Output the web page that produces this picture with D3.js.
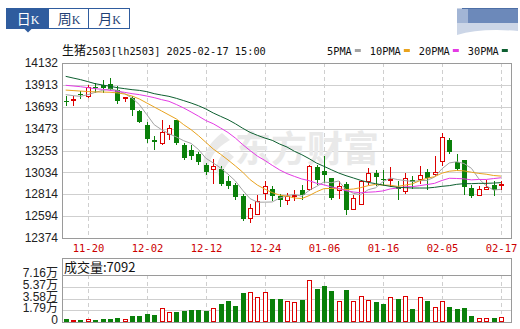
<!DOCTYPE html>
<html>
<head>
<meta charset="utf-8">
<script src="https://cdn.jsdelivr.net/npm/d3@7"></script>
<style>
body { margin: 0; background: #fff; }
svg { display: block; }
</style>
</head>
<body>
<svg id="chart" width="520" height="329"></svg>
<script>
// candle dates (trading days)
var dates = ["11-15","11-18","11-19","11-20","11-21","11-22","11-25","11-26","11-27","11-28",
	"11-29","12-02","12-03","12-04","12-05","12-06","12-09","12-10","12-11","12-12",
	"12-13","12-16","12-17","12-18","12-19","12-20","12-23","12-24","12-25","12-26",
	"12-27","12-30","12-31","01-02","01-03","01-06","01-07","01-08","01-09","01-10",
	"01-13","01-14","01-15","01-16","01-17","01-20","01-21","01-22","01-23","01-24",
	"01-27","02-05","02-06","02-07","02-10","02-11","02-12","02-13","02-14","02-17"];

var opens = [13748,13755,13818,13790,13893,13915,13925,13864,13770,13780,
	13653,13506,13355,13318,13412,13556,13311,13255,13221,13111,
	13060,13067,12943,12910,12792,12565,12608,12812,12866,12799,
	12742,12782,12859,12859,13087,13044,12977,12843,12920,12658,
	12709,12933,13027,12970,12943,12886,12833,12960,12960,13034,
	13010,13134,13355,13134,13154,12876,12792,12859,12903,12900];
var closes = [13740,13768,13810,13891,13885,13885,13870,13747,13790,13663,
	13536,13368,13335,13439,13476,13328,13177,13201,13134,13034,
	13094,12920,12900,12786,12565,12675,12742,12900,12799,12759,
	12792,12809,12806,13094,12960,13010,12776,12893,12658,12776,
	12943,13027,12987,12960,12966,12866,12976,12940,13004,12977,
	13034,13389,13234,13067,12886,12792,12866,12883,12853,12920];
var highs = [13797,13800,13847,13914,13930,13965,13980,13904,13790,13797,
	13663,13536,13395,13556,13509,13563,13328,13311,13234,13127,
	13167,13094,12993,12926,12819,12719,12806,12943,12893,12819,
	12826,12859,12910,13111,13111,13201,12977,12943,12933,12809,
	12960,13077,13060,13054,13087,12943,13027,12993,13100,13067,
	13194,13429,13375,13221,13154,12910,12893,12960,12943,12943];
var lows = [13697,13700,13770,13784,13830,13830,13865,13723,13737,13596,
	13529,13328,13261,13308,13362,13311,13161,13161,13111,13010,
	12920,12893,12866,12759,12541,12524,12608,12759,12742,12685,
	12709,12742,12759,12843,12910,12926,12759,12766,12608,12658,
	12709,12910,12893,12893,12886,12759,12819,12866,12920,12859,
	12993,13094,13221,13044,12809,12776,12792,12859,12799,12859];

var volumes = [4090,2560,3580,5110,3580,5110,4090,6650,4090,8690,
	8690,12780,10230,21990,14830,14830,16880,17900,17900,16880,
	21990,27100,31700,24030,44490,45510,37330,45000,35800,34770,
	31700,30170,33240,63920,50110,54720,47050,31700,48580,31700,
	38860,33240,30170,27100,37330,34770,38860,19430,37330,31700,
	23520,31700,22500,19430,20970,8690,6650,6650,5620,7092];

// moving averages
var ma5 = [13814,13804,13797,13814,13837,13857,13871,13857,13824,13780,
	13713,13613,13512,13462,13422,13389,13351,13324,13263,13175,
	13128,13077,13016,12947,12853,12769,12734,12734,12736,12775,
	12798,12812,12793,12852,12892,12936,12929,12947,12859,12823,
	12809,12859,12878,12939,12977,12961,12951,12942,12950,12953,
	12986,13069,13128,13140,13122,13074,12969,12899,12856,12863];
var ma10 = [13860,13855,13850,13845,13842,13840,13838,13832,13820,13800,
	13770,13730,13690,13650,13610,13570,13512,13462,13402,13335,
	13268,13215,13158,13098,13035,12960,12905,12865,12830,12805,
	12795,12776,12770,12800,12838,12870,12872,12868,12860,12866,
	12880,12900,12912,12905,12905,12892,12905,12918,12950,12975,
	12990,13025,13045,13052,13048,13035,13023,13015,13002,12996];
var ma20 = [13908,13901,13894,13884,13874,13867,13857,13847,13837,13824,
	13814,13800,13784,13764,13747,13715,13680,13640,13598,13554,
	13522,13479,13434,13378,13312,13252,13196,13153,13104,13058,
	13021,12993,12967,12950,12924,12908,12888,12872,12849,12836,
	12828,12834,12838,12847,12867,12876,12888,12890,12900,12911,
	12923,12952,12974,12972,12968,12958,12962,12962,12971,12979];
var ma30 = [13998,13981,13965,13945,13924,13911,13898,13884,13874,13864,
	13857,13844,13824,13810,13797,13777,13754,13730,13703,13670,
	13630,13596,13563,13522,13476,13435,13405,13378,13355,13318,
	13288,13245,13211,13171,13127,13094,13060,13027,13000,12977,
	12953,12933,12920,12906,12893,12883,12880,12876,12876,12876,
	12883,12893,12900,12913,12920,12920,12923,12923,12926,12930];

var priceTicks = [12374,12594,12814,13034,13253,13473,13693,13913,14132];
var volTicks = [0,17900,35800,53700,71600];
var volTickLabels = ["0","1.79万","3.58万","5.37万","7.16万"];
var dateTicks = ["11-20","12-02","12-12","12-24","01-06","01-16","02-05","02-17"];
var maNames = ["5PMA","10PMA","20PMA","30PMA"];
var maColors = ["#a3a3a3","#e9a31e","#e43be4","#0d5f30"];

var svg = d3.select("#chart");
var pLeft = 62, pRight = 512, pTop = 63, pBottom = 238;
var vTop = 258, vPlot = 275, vBottom = 322;
var slot = (pRight - pLeft) / 61;
var UP = "#dd0000", DOWN = "#0a800a", GRID = "#cfcfcf", BORDER = "#9a9a9a";

var x = d3.scaleBand().domain(dates).range([pLeft, pLeft + slot * dates.length]);
var y = d3.scaleLinear().domain([12374, 14132]).range([pBottom, pTop]);
var yv = d3.scaleLinear().domain([0, 71600]).range([vBottom, vPlot]);
function cx(i) { return Math.round(x(dates[i]) + x.bandwidth() / 2) + 0.5; }

// ---- tabs
var tabs = [["日", 6, 42], ["周", 48, 40], ["月", 88, 41]];
tabs.forEach(function(t, i) {
	svg.append("rect").attr("x", t[1] + 0.5).attr("y", 8.5).attr("width", t[2]).attr("height", 20)
		.attr("fill", i == 0 ? "#2f5c9e" : "#fff").attr("stroke", "#2f5c9e");
	var tx = svg.append("text").attr("x", t[1] + t[2] / 2 + 1).attr("y", 24).attr("text-anchor", "middle")
		.attr("fill", i == 0 ? "#fff" : "#1f3f74");
	tx.append("tspan").attr("font-family", "Noto Sans CJK SC").attr("font-size", 14).text(t[0]);
	tx.append("tspan").attr("font-family", "Liberation Serif").attr("font-size", 12).text("K");
});
svg.append("path").attr("d", "M24,28.5L32,28.5L28,32.5Z").attr("fill", "#2f5c9e");

// blurred logo top right
svg.append("rect").attr("x", 457).attr("y", 8).attr("width", 61).attr("height", 27).attr("fill", "#ccd6e7");
svg.append("rect").attr("x", 468).attr("y", 9).attr("width", 50).attr("height", 14).attr("fill", "#6c89ba");
svg.append("rect").attr("x", 457).attr("y", 9).attr("width", 11).attr("height", 14).attr("fill", "#a2b5d5");
svg.append("path").attr("d", "M457,35 Q480,28 518,31 L518,35 Z").attr("fill", "#fff");
svg.append("line").attr("x1", 462).attr("x2", 518).attr("y1", 8.5).attr("y2", 8.5).attr("stroke", "#4d6fa6");

// ---- title
var title = svg.append("text").attr("x", 62).attr("y", 55).attr("fill", "#111");
title.append("tspan").attr("font-family", "Noto Sans CJK SC").attr("font-size", 12).text("生猪");
title.append("tspan").attr("font-family", "DejaVu Sans Mono").attr("font-size", 10.3).text("2503[lh2503] 2025-02-17 15:00");

// legend
var lx = 327;
maNames.forEach(function(n, i) {
	var t = svg.append("text").attr("x", lx).attr("y", 55).attr("font-family", "DejaVu Sans Mono")
		.attr("font-size", 10.3).attr("fill", "#111").text(n);
	var w = t.node().getComputedTextLength();
	svg.append("rect").attr("x", lx + w + 3).attr("y", 49).attr("width", 6).attr("height", 3).attr("fill", maColors[i]);
	lx += w + 3 + 6 + 9;
});

// ---- main grid
var g = svg.append("g").attr("shape-rendering", "crispEdges");
priceTicks.forEach(function(p) {
	g.append("line").attr("x1", pLeft).attr("x2", pRight).attr("y1", Math.round(y(p)) + 0.5).attr("y2", Math.round(y(p)) + 0.5)
		.attr("stroke", GRID);
});
dateTicks.forEach(function(d) {
	var i = dates.indexOf(d);
	g.append("line").attr("x1", cx(i)).attr("x2", cx(i)).attr("y1", pTop).attr("y2", pBottom)
		.attr("stroke", GRID).attr("stroke-dasharray", "4,3");
	g.append("line").attr("x1", cx(i)).attr("x2", cx(i)).attr("y1", vPlot).attr("y2", vBottom)
		.attr("stroke", GRID).attr("stroke-dasharray", "4,3");
});

// watermark
svg.append("path").attr("d", "M222,133 C204,146 198,166 208,180 C206,164 212,150 230,140 Z M226,150 C216,160 214,170 220,178 C224,168 228,162 234,157 Z")
	.attr("fill", "#e9e9e9");
svg.append("text").attr("x", 235).attr("y", 162).attr("font-family", "Noto Sans CJK SC").attr("font-weight", "bold")
	.attr("font-size", 36).attr("fill", "#e9e9e9").text("东方财富");

// y axis labels
priceTicks.forEach(function(p) {
	svg.append("text").attr("x", 58).attr("y", y(p)).attr("dy", "0.35em").attr("text-anchor", "end")
		.attr("font-family", "Liberation Sans").attr("font-size", 12).attr("fill", "#222").text(p);
});
// x axis labels
dateTicks.forEach(function(d) {
	svg.append("text").attr("x", cx(dates.indexOf(d))).attr("y", 252).attr("text-anchor", "middle")
		.attr("font-family", "DejaVu Sans Mono").attr("font-size", 10.5).attr("fill", "#cc0000").text(d);
});

// ---- candles
var cg = svg.append("g").attr("shape-rendering", "crispEdges");
dates.forEach(function(d, i) {
	var up = closes[i] > opens[i];
	var col = up ? UP : DOWN;
	var c = cx(i);
	cg.append("line").attr("x1", c).attr("x2", c).attr("y1", y(highs[i])).attr("y2", y(lows[i])).attr("stroke", col);
	var yt = Math.round(y(Math.max(opens[i], closes[i])));
	var yb = Math.round(y(Math.min(opens[i], closes[i])));
	var h = Math.max(1, yb - yt);
	if (up) {
		cg.append("rect").attr("x", c - 2).attr("y", yt + 0.5).attr("width", 4).attr("height", Math.max(1, h - 1))
			.attr("fill", "#fff").attr("stroke", col);
	} else {
		cg.append("rect").attr("x", c - 2.5).attr("y", yt).attr("width", 5).attr("height", h).attr("fill", col);
	}
});

// moving averages
var line = d3.line().x(function(d, i) { return x(dates[i]) + x.bandwidth() / 2; }).y(function(d) { return y(d); });
[ma5, ma10, ma20, ma30].forEach(function(s, k) {
	svg.append("path").datum(s).attr("d", line).attr("fill", "none").attr("stroke", maColors[k]).attr("stroke-width", 1);
});

// main border
svg.append("rect").attr("x", pLeft + 0.5).attr("y", pTop + 0.5).attr("width", pRight - pLeft - 1).attr("height", pBottom - pTop)
	.attr("fill", "none").attr("stroke", BORDER).attr("shape-rendering", "crispEdges");

// ---- volume panel
var vg = svg.append("g").attr("shape-rendering", "crispEdges");
volTicks.forEach(function(v, k) {
	if (k > 0 && k < volTicks.length - 1)
		vg.append("line").attr("x1", pLeft).attr("x2", pRight).attr("y1", Math.round(yv(v)) + 0.5).attr("y2", Math.round(yv(v)) + 0.5)
			.attr("stroke", GRID);
	svg.append("text").attr("x", 58).attr("y", yv(v) + 2).attr("text-anchor", "end")
		.attr("font-family", "Liberation Sans, Noto Sans CJK SC").attr("font-size", 12).attr("fill", "#222").text(volTickLabels[k]);
});
dates.forEach(function(d, i) {
	var up = closes[i] > opens[i];
	var c = cx(i);
	var yt = Math.round(yv(volumes[i]));
	if (up) {
		vg.append("rect").attr("x", c - 2).attr("y", yt + 0.5).attr("width", 4).attr("height", vBottom - yt - 1)
			.attr("fill", "#fff").attr("stroke", UP);
	} else {
		vg.append("rect").attr("x", c - 2.5).attr("y", yt).attr("width", 5).attr("height", vBottom - yt).attr("fill", DOWN);
	}
});
svg.append("rect").attr("x", pLeft + 0.5).attr("y", vTop + 0.5).attr("width", pRight - pLeft - 1).attr("height", vBottom - vTop)
	.attr("fill", "none").attr("stroke", BORDER).attr("shape-rendering", "crispEdges");
svg.append("line").attr("x1", pLeft).attr("x2", pRight).attr("y1", vPlot + 0.5).attr("y2", vPlot + 0.5)
	.attr("stroke", BORDER).attr("shape-rendering", "crispEdges");
svg.append("text").attr("x", 64).attr("y", 272).attr("font-family", "Noto Sans CJK SC").attr("font-size", 13)
	.attr("fill", "#111").text("成交量:" + volumes[volumes.length - 1]);
</script>
</body>
</html>
